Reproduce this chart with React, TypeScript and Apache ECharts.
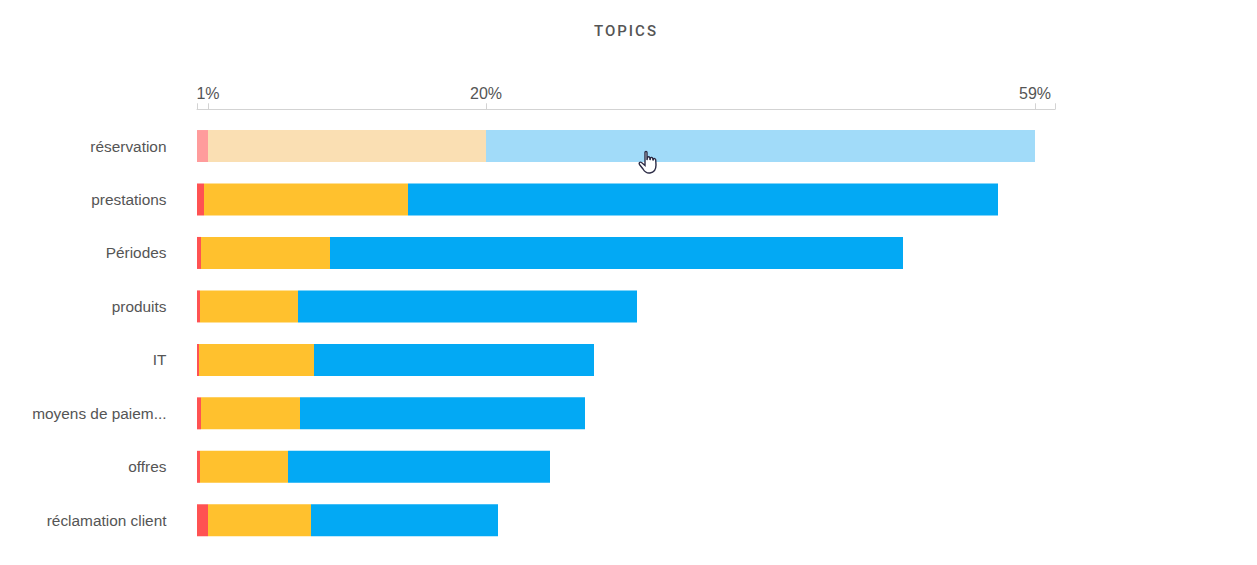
import React, { useEffect, useRef } from "react";
import * as echarts from "echarts";

const categories = ["réservation", "prestations", "Périodes", "produits", "IT", "moyens de paiem...", "offres", "réclamation client"];
const negative = [11, 7, 4, 3, 2, 4, 3, 11];
const neutral = [278, 204, 129, 98, 115, 99, 88, 103];
const positive = [549, 590, 573, 339, 280, 285, 262, 187];
const tickValues = [0, 11, 289, 838, 858];
const labelValues = [11, 289, 838];
const labelTexts = ["1%", "20%", "59%"];
const title = "TOPICS";

const colors = ["#ff5252", "#ffc12e", "#03a9f4"];
const fadedColors = ["#ff9c9c", "#fadfb3", "#a1dbf9"];

const handPath = "M7 2.5 C7 1 9 1 9 2.5 L9 10 L9.5 7.5 C10 6.5 11.5 6.5 11.8 7.8 L12 10 L12.5 8 C13 7 14.5 7.2 14.7 8.4 L15 10.5 L15.5 9 C16 8.2 17.5 8.5 17.7 9.8 L18 15 C18 19 16 22.5 12 23 C8.5 23.5 6.5 21.5 5 19 L1.5 14.5 C0.5 13 2 11.5 3.5 12.5 L7 15.5 Z";

export default function App() {
  const ref = useRef<HTMLDivElement>(null);
  useEffect(() => {
    document.body.style.margin = "0";
    echarts.graphic.registerShape("hand", echarts.graphic.extendPath(handPath, {}));
    const chart = echarts.init(ref.current!, undefined, { renderer: "svg" });
    const seriesOf = (data: number[], i: number) => ({
      type: "bar",
      stack: "total",
      barWidth: 32,
      silent: true,
      data: data.map((v, j) => ({ value: v, itemStyle: { color: j === 0 ? fadedColors[i] : colors[i] } })),
    });
    chart.setOption({
      animation: false,
      backgroundColor: "#fff",
      title: {
        text: title,
        left: 621,
        top: 18,
        textAlign: "center",
        textStyle: { fontFamily: "Roboto", fontSize: 15, fontWeight: 500, color: "#555" },
      },
      grid: { left: 197, right: 202, top: 119.3, bottom: 18 },
      xAxis: {
        type: "value",
        position: "top",
        offset: 10,
        min: 0,
        max: 858,
        splitLine: { show: false },
        axisLine: { show: true, lineStyle: { color: "#d3d3d3" } },
        axisTick: { show: true, length: 6, customValues: tickValues, lineStyle: { color: "#d3d3d3" } },
        axisLabel: {
          customValues: labelValues,
          margin: 8,
          fontFamily: "Liberation Sans",
          fontSize: 16,
          color: "#555",
          formatter: (v: number) => labelTexts[labelValues.indexOf(v)],
        },
      },
      yAxis: {
        type: "category",
        inverse: true,
        data: categories,
        axisLine: { show: false },
        axisTick: { show: false },
        axisLabel: { margin: 30.5, fontFamily: "Liberation Sans", fontSize: 15.4, color: "#555" },
      },
      series: [seriesOf(negative, 0), seriesOf(neutral, 1), seriesOf(positive, 2)],
      graphic: [
        {
          type: "hand",
          x: 638,
          y: 150,
          style: { fill: "#fff", stroke: "#2b2b45", lineWidth: 1.4 },
          z: 100,
        },
      ],
    });
    ref.current!.querySelectorAll("text").forEach((t) => {
      if (t.textContent === title) t.setAttribute("letter-spacing", "2");
    });
    return () => chart.dispose();
  }, []);
  return <div ref={ref} style={{ width: 1257, height: 565 }} />;
}
